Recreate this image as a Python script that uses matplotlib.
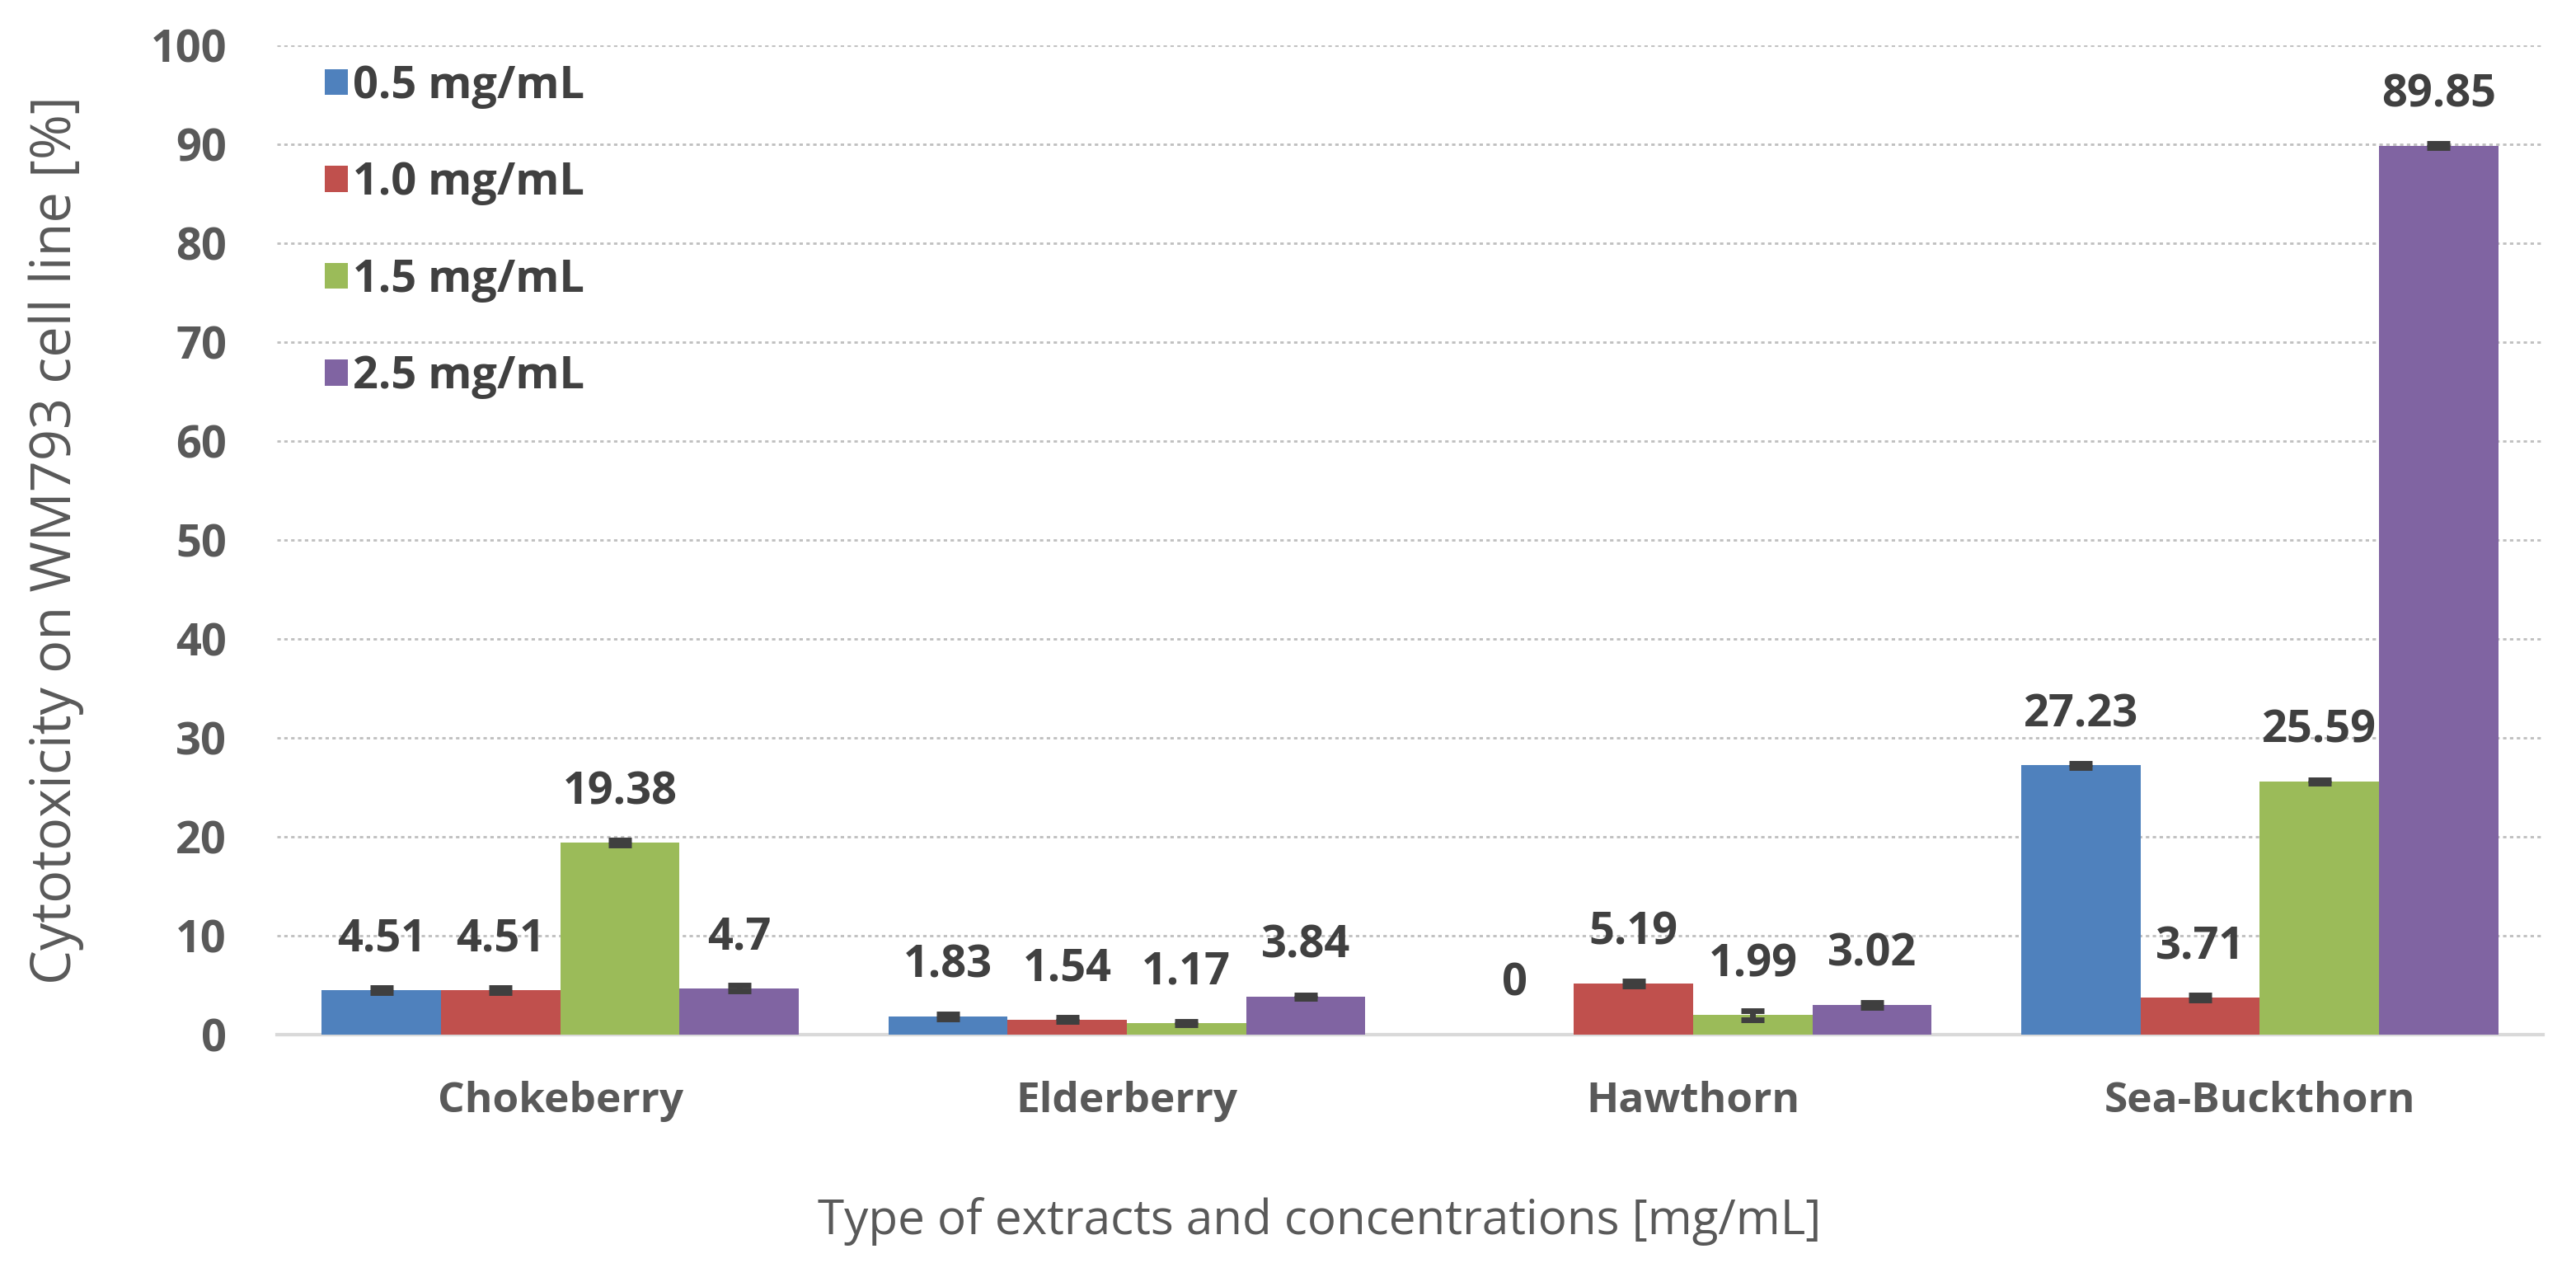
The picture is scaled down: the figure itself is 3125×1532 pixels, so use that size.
import matplotlib
matplotlib.use("Agg")
import matplotlib.pyplot as plt
import numpy as np

plt.rcParams['font.family'] = ['Open Sans', 'DejaVu Sans']

# ---- data ----
categories = ["Chokeberry", "Elderberry", "Hawthorn", "Sea-Buckthorn"]
series_names = ["0.5 mg/mL", "1.0 mg/mL", "1.5 mg/mL", "2.5 mg/mL"]
vals_05 = [4.51, 1.83, 0.0, 27.23]
vals_10 = [4.51, 1.54, 5.19, 3.71]
vals_15 = [19.38, 1.17, 1.99, 25.59]
vals_25 = [4.70, 3.84, 3.02, 89.85]
err_05 = [0.25, 0.25, 0.0, 0.2]
err_10 = [0.25, 0.2, 0.25, 0.25]
err_15 = [0.25, 0.2, 0.45, 0.2]
err_25 = [0.3, 0.2, 0.25, 0.2]
yticks = [0, 10, 20, 30, 40, 50, 60, 70, 80, 90, 100]

series_vals = [vals_05, vals_10, vals_15, vals_25]
series_errs = [err_05, err_10, err_15, err_25]
colors = ["#4F81BD", "#C0504D", "#9BBB59", "#8064A2"]

W, H = 3125, 1532
fig = plt.figure(figsize=(W / 200, H / 200), dpi=200)
left, right, top, bottom = 336, 3085, 55, 1255
ax = fig.add_axes([left / W, 1 - bottom / H, (right - left) / W, (bottom - top) / H])

x = np.arange(len(categories))
bw = 0.2105
label_color = "#404040"
tick_color = "#595959"
fs = 19.5

for i, (vals, errs, c, name) in enumerate(zip(series_vals, series_errs, colors, series_names)):
    pos = x + (i - 1.5) * bw
    ax.bar(pos, vals, width=bw, color=c, label=name, zorder=2)
    mask = np.array(errs) > 0
    ax.errorbar(pos[mask], np.array(vals)[mask], yerr=np.array(errs)[mask], fmt='none',
                ecolor="#3F3F3F", elinewidth=2.5, capsize=5, capthick=2.5, zorder=3)
    for px, v in zip(pos, vals):
        txt = f"{v:g}"
        ax.annotate(txt, (px, v), xytext=(0, 22), textcoords='offset points',
                    ha='center', va='center', fontsize=fs, fontweight='bold',
                    color=label_color, zorder=4)

ax.set_xlim(-0.5, len(categories) - 0.5)
ax.set_ylim(0, 100)
ax.set_yticks(yticks)
ax.set_xticks(x)
ax.set_xticklabels(categories, fontsize=18.5, fontweight='bold', color=tick_color)
ax.set_yticklabels([str(t) for t in yticks], fontsize=fs, fontweight='bold', color=tick_color)
ax.tick_params(axis='both', length=0)
ax.tick_params(axis='y', pad=22)
ax.tick_params(axis='x', pad=20)

ax.yaxis.grid(True, color="#BFBFBF", linestyle=(0, (1.5, 1.5)), linewidth=1.0, zorder=0)
ax.set_axisbelow(True)
for s in ["top", "right", "left"]:
    ax.spines[s].set_visible(False)
ax.spines["bottom"].set_color("#D9D9D9")
ax.spines["bottom"].set_linewidth(1.5)
ax.spines["bottom"].set_zorder(1)

ax.set_ylabel("Cytotoxicity on WM793 cell line [%]", fontsize=24, color=tick_color)
ax.yaxis.set_label_coords(-0.085, 0.5)
ax.set_xlabel("Type of extracts and concentrations [mg/mL]", fontsize=21, color=tick_color)
ax.xaxis.set_label_coords(0.46, -0.164)

leg = ax.legend(loc='upper left', bbox_to_anchor=(0.0211, 0.981), frameon=False,
                prop={'size': fs, 'weight': 'bold'}, handlelength=0.52, handleheight=0.52,
                handletextpad=0.1, labelspacing=1.17, borderpad=0, borderaxespad=0,
                labelcolor=label_color)

fig.savefig("out.png", dpi=200, facecolor="white")
